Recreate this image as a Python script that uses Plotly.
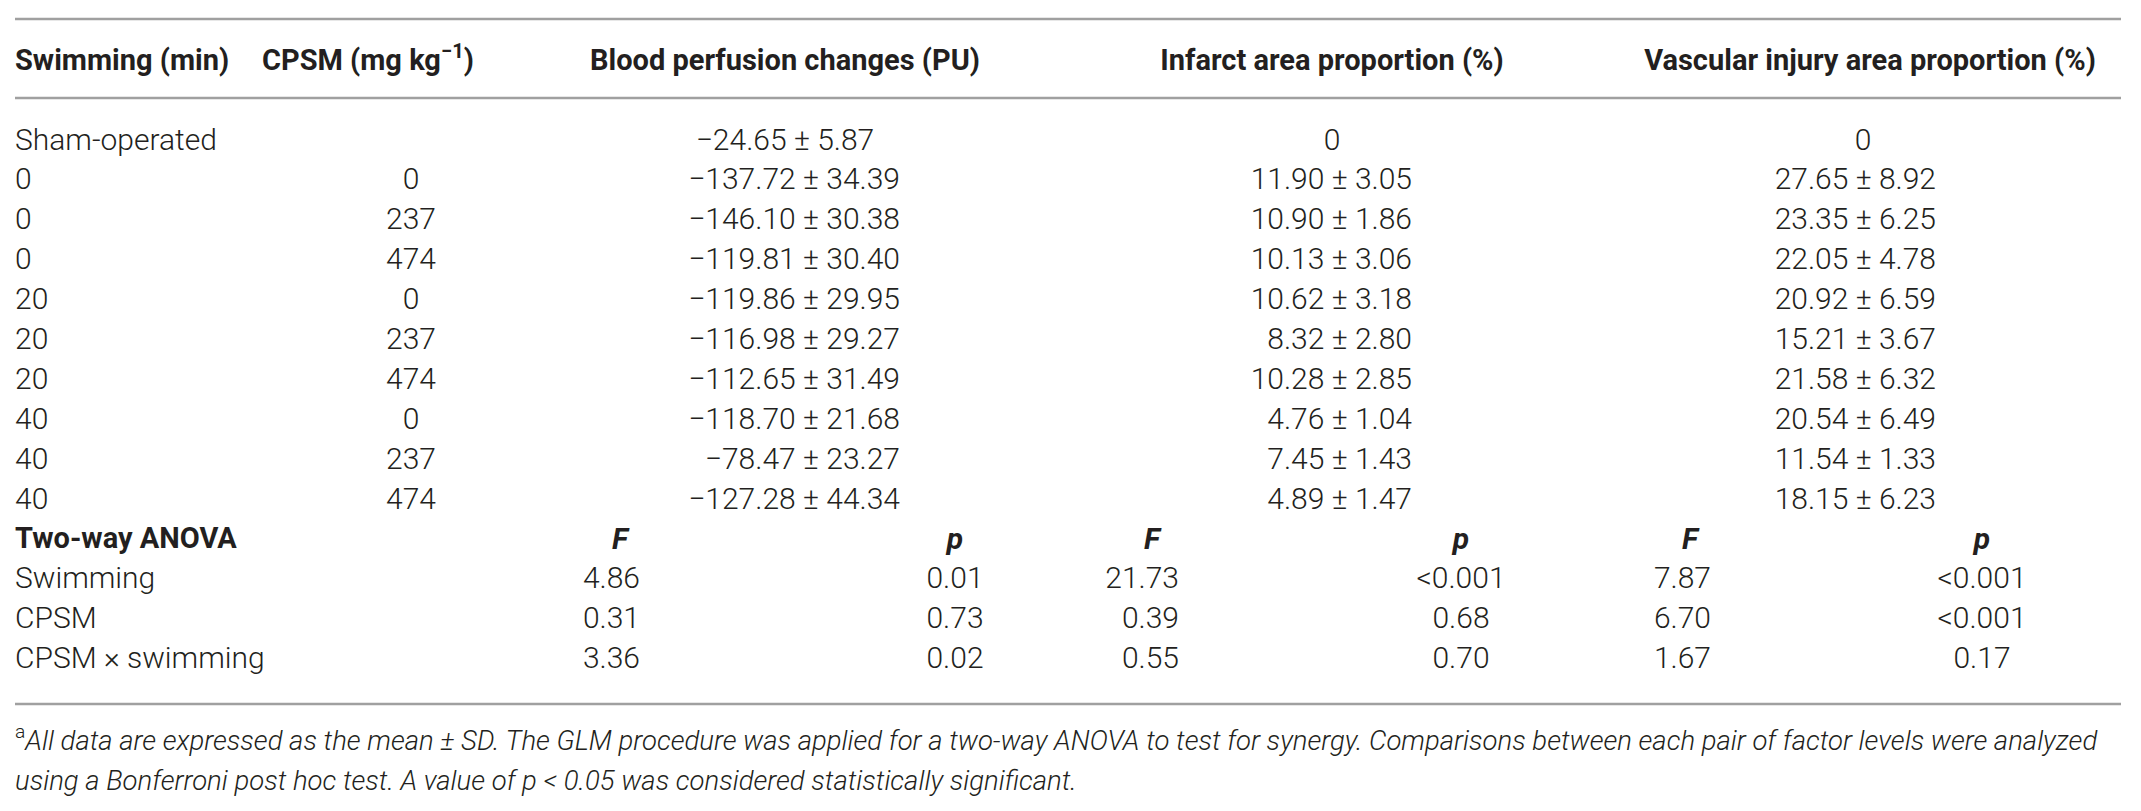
import plotly.graph_objects as go

# Tabela: natação x CPSM
headers = ["Swimming (min)", "CPSM (mg kg<sup>−1</sup>)", "Blood perfusion changes (PU)",
           "Infarct area proportion (%)", "Vascular injury area proportion (%)"]

swimming = ["Sham-operated", "0", "0", "0", "20", "20", "20", "40", "40", "40"]
cpsm = ["", "0", "237", "474", "0", "237", "474", "0", "237", "474"]
blood = ["−24.65 ± 5.87", "−137.72 ± 34.39", "−146.10 ± 30.38", "−119.81 ± 30.40",
         "−119.86 ± 29.95", "−116.98 ± 29.27", "−112.65 ± 31.49", "−118.70 ± 21.68",
         "−78.47 ± 23.27", "−127.28 ± 44.34"]
infarct = ["0", "11.90 ± 3.05", "10.90 ± 1.86", "10.13 ± 3.06", "10.62 ± 3.18",
           "8.32 ± 2.80", "10.28 ± 2.85", "4.76 ± 1.04", "7.45 ± 1.43", "4.89 ± 1.47"]
vascular = ["0", "27.65 ± 8.92", "23.35 ± 6.25", "22.05 ± 4.78", "20.92 ± 6.59",
            "15.21 ± 3.67", "21.58 ± 6.32", "20.54 ± 6.49", "11.54 ± 1.33", "18.15 ± 6.23"]

anova_title = "Two-way ANOVA"
anova_terms = ["Swimming", "CPSM", "CPSM × swimming"]
blood_f = ["4.86", "0.31", "3.36"]
blood_p = ["0.01", "0.73", "0.02"]
infarct_f = ["21.73", "0.39", "0.55"]
infarct_p = ["<0.001", "0.68", "0.70"]
vascular_f = ["7.87", "6.70", "1.67"]
vascular_p = ["<0.001", "<0.001", "0.17"]

footnote = [
    "<sup>a</sup><i>All data are expressed as the mean ± SD. The GLM procedure was applied for a two-way ANOVA to test for synergy. Comparisons between each pair of factor levels were analyzed</i>",
    "<i>using a Bonferroni post hoc test. A value of p &lt; 0.05 was considered statistically significant.</i>",
]

# geometria (pixels)
W, H = 2141, 811
LEFT, RIGHT = 15, 2121
Y_HEAD, ROW0, STEP = 63, 142, 39.9
COL_CPSM = 411
HEAD_X = [368, 785, 1332, 1870]  # centro dos títulos (exceto o primeiro)
CENTER = [785, 1332, 1863]       # centro de cada grupo (linha sham)
RIGHT_EDGE = [900, 1412, 1936]   # alinhamento dos valores
F_EDGE = [640, 1179, 1711]
F_CENTER = [620, 1152, 1690]
P_CENTER = [955, 1461, 1982]
FOOT_Y = [743, 783]

FONT = "Roboto"
TXT = "#231f20"
SIZE = 30
HEAD_SIZE = 29

n = len(swimming)
row_y = [ROW0 + i * STEP for i in range(n)]
anova_y = ROW0 + n * STEP
term_y = [ROW0 + (n + 1 + i) * STEP for i in range(len(anova_terms))]

fig = go.Figure()


def add_text(xs, ys, texts, pos, bold=False, italic=False, size=SIZE):
    keep = [(x, y, t) for x, y, t in zip(xs, ys, texts) if t]
    fig.add_trace(go.Scatter(
        x=[k[0] for k in keep], y=[k[1] for k in keep], text=[k[2] for k in keep],
        mode="text", textposition=pos,
        textfont=dict(family=FONT, size=size, color=TXT,
                      weight=700 if bold else 300,
                      style="italic" if italic else "normal"),
        hoverinfo="skip", showlegend=False
    ))


# cabeçalho
add_text([LEFT], [Y_HEAD], [headers[0]], "middle right", bold=True, size=HEAD_SIZE)
add_text(HEAD_X, [Y_HEAD] * 4, headers[1:], "middle center", bold=True, size=HEAD_SIZE)

# linhas dos grupos
add_text([LEFT] * n, row_y, swimming, "middle right")
add_text([COL_CPSM] * n, row_y, cpsm, "middle center")
for k, col in enumerate([blood, infarct, vascular]):
    add_text([CENTER[k]], [row_y[0]], [col[0]], "middle center")
    add_text([RIGHT_EDGE[k]] * (n - 1), row_y[1:], col[1:], "middle left")

# ANOVA
add_text([LEFT], [anova_y], [anova_title], "middle right", bold=True, size=HEAD_SIZE)
add_text(F_CENTER, [anova_y] * 3, ["F"] * 3, "middle center", bold=True, italic=True)
add_text(P_CENTER, [anova_y] * 3, ["p"] * 3, "middle center", bold=True, italic=True)
add_text([LEFT] * 3, term_y, anova_terms, "middle right")
for k, (fv, pv) in enumerate([(blood_f, blood_p), (infarct_f, infarct_p), (vascular_f, vascular_p)]):
    add_text([F_EDGE[k]] * 3, term_y, fv, "middle left")
    add_text([P_CENTER[k]] * 3, term_y, pv, "middle center")

# nota de rodapé
add_text([LEFT, LEFT], FOOT_Y, footnote, "middle right", size=27.5)

# linhas horizontais
for yy in [19, 98, 704]:
    fig.add_shape(type="line", x0=LEFT, x1=RIGHT, y0=yy, y1=yy,
                  line=dict(color="#a0a0a0", width=2.5))

fig.update_layout(
    width=W, height=H,
    margin=dict(l=0, r=0, t=0, b=0),
    plot_bgcolor="white", paper_bgcolor="white",
    xaxis=dict(range=[0, W], visible=False, fixedrange=True),
    yaxis=dict(range=[H, 0], visible=False, fixedrange=True),
    showlegend=False
)

fig.write_html("out.html", config={"displayModeBar": False},
               post_script="document.body.style.margin='0';")
